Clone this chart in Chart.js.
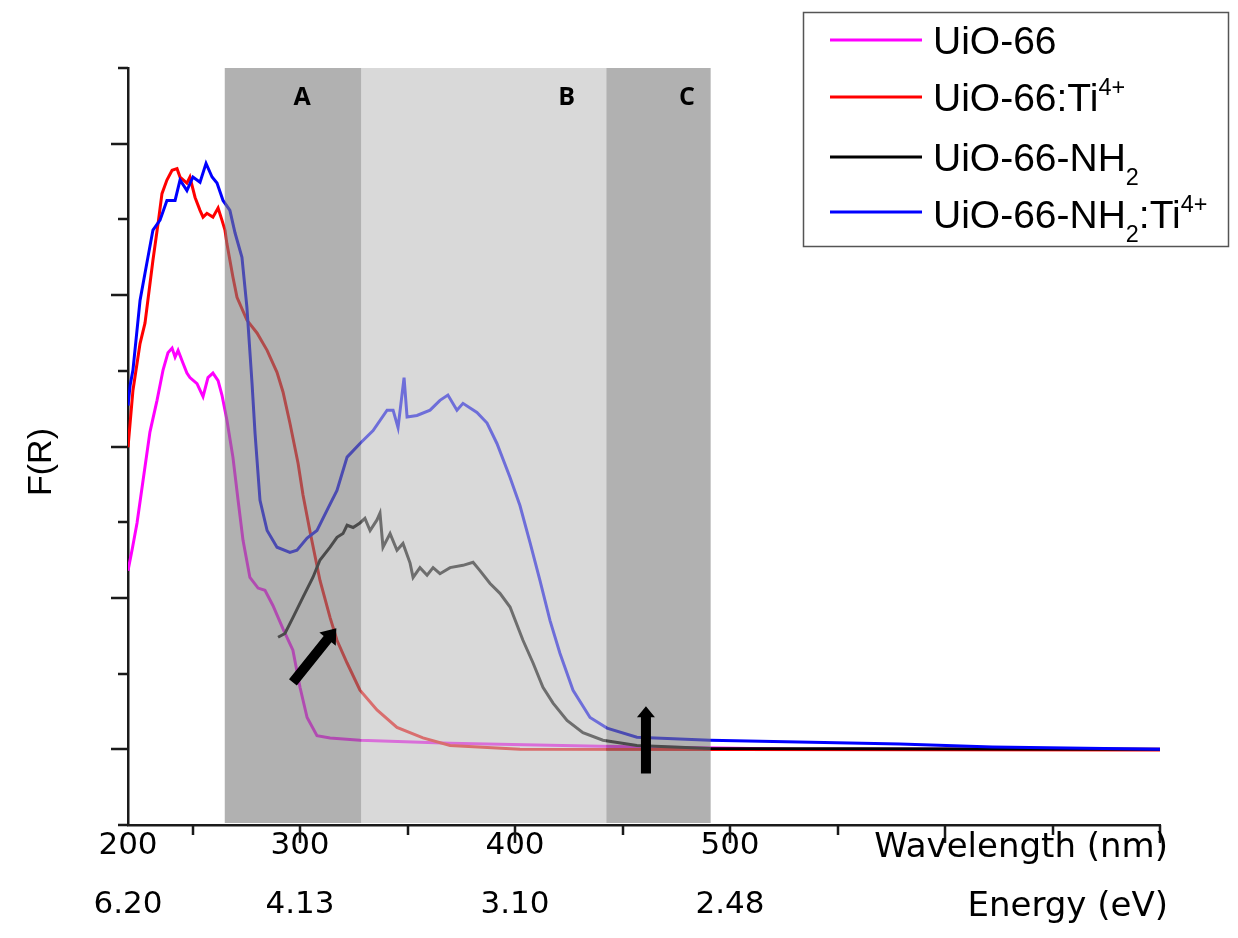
<!DOCTYPE html>
<html>
<head>
<meta charset="utf-8">
<script src="https://cdn.jsdelivr.net/npm/chart.js@4.4.0/dist/chart.umd.min.js"></script>
<style>
body { margin: 0; background: #fff; }
canvas { display: block; }
</style>
</head>
<body>
<canvas id="graf_fr" width="1238" height="938"></canvas>
<script>
// wavelength (nm) and F(R), 1 unit = 1 y tick

const uio66_nm = [220, 222, 224.2, 227, 230.2, 233.5, 236.3, 238.6, 240.5, 241.9, 243.3, 245.6, 247.4, 248.8, 252.1, 254.9, 257.2, 259.5, 261.9, 263.7, 266, 268.8, 271.2, 273.5, 276.7, 280.5, 283.7, 287.4, 292.1, 296.7, 300, 303.3, 307.9, 314, 327.9, 369.8, 439.5, 532.6, 700];
const uio66_fr = [2.36, 2.65, 2.99, 3.55, 4.19, 4.61, 5.01, 5.24, 5.30, 5.18, 5.27, 5.10, 4.97, 4.91, 4.83, 4.66, 4.91, 4.97, 4.87, 4.68, 4.35, 3.86, 3.29, 2.76, 2.27, 2.13, 2.10, 1.90, 1.59, 1.31, 0.82, 0.42, 0.18, 0.15, 0.12, 0.08, 0.04, 0.0, 0.0];

const uio66ti_nm = [220, 222.3, 225.6, 227.9, 231.6, 234, 235.8, 238.1, 240.5, 242.8, 244.2, 247.4, 248.8, 251.2, 253.5, 254.9, 256.7, 259.5, 261.9, 263.7, 265.1, 266, 268.8, 270.7, 275.3, 280, 284.7, 289.3, 292.1, 295.3, 299.1, 301.4, 304.7, 309.3, 314, 317.2, 321.9, 327.9, 335.8, 345.1, 357.2, 369.8, 402.3, 700];
const uio66ti_fr = [3.99, 4.74, 5.36, 5.63, 6.46, 6.95, 7.34, 7.52, 7.65, 7.67, 7.56, 7.48, 7.56, 7.29, 7.12, 7.03, 7.08, 7.03, 7.15, 6.99, 6.86, 6.68, 6.24, 5.97, 5.67, 5.50, 5.27, 4.98, 4.72, 4.31, 3.78, 3.36, 2.87, 2.23, 1.74, 1.44, 1.14, 0.78, 0.52, 0.29, 0.15, 0.05, 0.0, -0.01];

const nh2_nm = [289.8, 293, 296.7, 301.4, 306, 309.3, 314, 317.2, 320, 321.9, 324.7, 327.9, 330.2, 332.6, 335.8, 337.2, 338.6, 341.9, 345.1, 347.9, 351.2, 352.6, 355.8, 359.1, 361.9, 365.1, 369.8, 375.8, 380.5, 383.7, 388.4, 393, 397.7, 403.7, 408.4, 413, 417.7, 424.2, 431.6, 440.9, 456.7, 490.7, 700];
const nh2_fr = [1.48, 1.53, 1.74, 2.01, 2.27, 2.50, 2.67, 2.80, 2.85, 2.96, 2.93, 2.99, 3.05, 2.89, 3.03, 3.12, 2.67, 2.85, 2.63, 2.72, 2.46, 2.27, 2.40, 2.30, 2.40, 2.32, 2.40, 2.43, 2.47, 2.36, 2.19, 2.06, 1.88, 1.44, 1.14, 0.82, 0.61, 0.38, 0.22, 0.12, 0.05, 0.01, 0.0];

const nh2ti_nm = [220, 221, 222.3, 225.6, 227.9, 231.6, 234.9, 238.1, 241.9, 244.2, 247.4, 250.2, 253.5, 256.3, 259.1, 261.4, 264.2, 267.4, 269.8, 273, 275.3, 277.7, 279.1, 281.4, 284.7, 289.3, 295.3, 298.6, 303.3, 307.9, 312.6, 317.2, 321.9, 327.9, 334, 340.5, 343.3, 345.6, 348.4, 349.8, 354.4, 360.5, 365.1, 368.8, 373, 375.8, 382.3, 387, 391.6, 397.7, 402.3, 407, 411.6, 416.3, 420.9, 427, 434.9, 442.8, 456.7, 490.7, 579, 622, 700];
const nh2ti_fr = [4.54, 4.81, 5.01, 5.93, 6.29, 6.86, 6.99, 7.25, 7.25, 7.52, 7.38, 7.56, 7.49, 7.74, 7.56, 7.48, 7.25, 7.12, 6.82, 6.50, 5.84, 4.83, 4.17, 3.29, 2.89, 2.67, 2.60, 2.63, 2.79, 2.89, 3.16, 3.42, 3.86, 4.04, 4.21, 4.48, 4.48, 4.25, 4.91, 4.39, 4.41, 4.48, 4.61, 4.68, 4.48, 4.57, 4.45, 4.31, 4.04, 3.59, 3.22, 2.73, 2.23, 1.70, 1.27, 0.78, 0.42, 0.28, 0.16, 0.12, 0.07, 0.03, 0.0];

const series_names = ['UiO-66', 'UiO-66:Ti^{4+}', 'UiO-66-NH_{2}', 'UiO-66-NH_{2}:Ti^{4+}'];
const series_colors = ['#ff00ff', '#ff0000', '#000000', '#0000ff'];

const x_tick_values = [220, 300, 400, 500];
const x_tick_nm = ['200', '300', '400', '500'];
const x_tick_ev = ['6.20', '4.13', '3.10', '2.48'];

const band_from = [265, 328.5, 442.5];
const band_to = [328.5, 442.5, 491];
const band_names = ['A', 'B', 'C'];
const band_name_at = [301, 424, 480];
const band_fill = ['rgba(125,125,125,0.6)', 'rgba(190,190,190,0.58)', 'rgba(125,125,125,0.6)'];

function pts(xs, ys) {
    return xs.map((v, i) => ({ x: v, y: ys[i] }));
}

function arrow(ctx, x1, y1, x2, y2, shaft, headW, headL) {
    const ang = Math.atan2(y2 - y1, x2 - x1);
    const len = Math.hypot(x2 - x1, y2 - y1);
    ctx.save();
    ctx.translate(x1, y1);
    ctx.rotate(ang);
    ctx.beginPath();
    ctx.moveTo(0, -shaft / 2);
    ctx.lineTo(len - headL, -shaft / 2);
    ctx.lineTo(len - headL, -headW / 2);
    ctx.lineTo(len, 0);
    ctx.lineTo(len - headL, headW / 2);
    ctx.lineTo(len - headL, shaft / 2);
    ctx.lineTo(0, shaft / 2);
    ctx.closePath();
    ctx.fill();
    ctx.restore();
}

function richText(ctx, str, x, y, size) {
    str.split(/(\^\{[^}]*\}|_\{[^}]*\})/).forEach(part => {
        if (!part) return;
        let s = size, dy = 0, t = part;
        if (part[0] === '^') { t = part.slice(2, -1); s = size * 0.6; dy = -size * 0.4; }
        else if (part[0] === '_') { t = part.slice(2, -1); s = size * 0.6; dy = size * 0.35; }
        ctx.font = s + 'px "Liberation Sans", Arial, sans-serif';
        ctx.fillText(t, x, y + dy);
        x += ctx.measureText(t).width;
    });
}

const extras = {
    id: 'extras',
    afterDatasetsDraw(chart) {
        const ctx = chart.ctx, a = chart.chartArea, x = chart.scales.x, y = chart.scales.y;
        ctx.save();
        // shaded regions over the curves
        band_from.forEach((f, i) => {
            const l = x.getPixelForValue(f), r = x.getPixelForValue(band_to[i]);
            ctx.fillStyle = band_fill[i];
            ctx.fillRect(l, a.top, r - l, a.bottom - a.top - 2);
        });
        ctx.fillStyle = '#000';
        ctx.font = 'bold 25px "Open Sans", sans-serif';
        ctx.textAlign = 'center';
        ctx.textBaseline = 'middle';
        band_names.forEach((n, i) => ctx.fillText(n, x.getPixelForValue(band_name_at[i]), 98));
        // arrows
        arrow(ctx, x.getPixelForValue(296.7), y.getPixelForValue(0.885),
              x.getPixelForValue(316.9), y.getPixelForValue(1.60), 10, 21, 14);
        arrow(ctx, x.getPixelForValue(460.9), y.getPixelForValue(-0.32),
              x.getPixelForValue(460.9), y.getPixelForValue(0.57), 10, 18, 11);
        ctx.restore();
    },
    afterDraw(chart) {
        const ctx = chart.ctx, a = chart.chartArea, x = chart.scales.x, y = chart.scales.y;
        ctx.save();
        ctx.strokeStyle = '#1a1a1a';
        ctx.lineWidth = 2.5;
        ctx.beginPath();
        for (let v = -1; v <= 9; v++) {
            const p = Math.round(y.getPixelForValue(v));
            const len = (v % 2 === 0) ? 17 : 10;
            ctx.moveTo(a.left, p);
            ctx.lineTo(a.left - len, p);
        }
        for (let v = 250; v <= 700; v += 50) {
            const p = Math.round(x.getPixelForValue(v));
            const len = (v % 100 === 0) ? 18 : 10;
            ctx.moveTo(p, a.bottom);
            ctx.lineTo(p, a.bottom + len);
        }
        ctx.stroke();

        // axis titles
        ctx.fillStyle = '#000';
        ctx.textBaseline = 'middle';
        ctx.textAlign = 'right';
        ctx.font = '34px "DejaVu Sans", sans-serif';
        ctx.fillText('Wavelength (nm)', 1168, 848);
        ctx.fillText('Energy (eV)', 1168, 907);
        ctx.save();
        ctx.translate(42, 462);
        ctx.rotate(-Math.PI / 2);
        ctx.textAlign = 'center';
        ctx.font = '34px "Liberation Sans", Arial, sans-serif';
        ctx.fillText('F(R)', 0, 0);
        ctx.restore();

        // legend box
        ctx.strokeStyle = '#555';
        ctx.lineWidth = 1.5;
        ctx.strokeRect(803.5, 12.5, 425, 234);
        const rowLine = [40, 97, 157, 212];
        const rowBase = [54, 111, 171, 228];
        ctx.textAlign = 'left';
        ctx.textBaseline = 'alphabetic';
        series_names.forEach((n, i) => {
            ctx.strokeStyle = series_colors[i];
            ctx.lineWidth = 3;
            ctx.beginPath();
            ctx.moveTo(830, rowLine[i]);
            ctx.lineTo(922, rowLine[i]);
            ctx.stroke();
            ctx.fillStyle = '#000';
            richText(ctx, n, 933, rowBase[i], 39);
        });
        ctx.restore();
    }
};

const graf_fr = new Chart(document.getElementById('graf_fr').getContext('2d'), {
    type: 'line',
    data: {
        datasets: [
            { label: 'UiO-66', data: pts(uio66_nm, uio66_fr), borderColor: series_colors[0], order: 4 },
            { label: 'UiO-66:Ti4+', data: pts(uio66ti_nm, uio66ti_fr), borderColor: series_colors[1], order: 3 },
            { label: 'UiO-66-NH2', data: pts(nh2_nm, nh2_fr), borderColor: series_colors[2], order: 2 },
            { label: 'UiO-66-NH2:Ti4+', data: pts(nh2ti_nm, nh2ti_fr), borderColor: series_colors[3], order: 1 }
        ]
    },
    options: {
        responsive: false,
        animation: false,
        devicePixelRatio: 1,
        elements: {
            line: { borderWidth: 3, tension: 0, fill: false },
            point: { radius: 0 }
        },
        layout: { padding: { top: 68, right: 78, left: 0, bottom: 0 } },
        plugins: { legend: { display: false }, tooltip: { enabled: false } },
        scales: {
            x: {
                type: 'linear',
                min: 220,
                max: 700,
                grid: { display: false, drawTicks: false },
                border: { display: true, color: '#1a1a1a', width: 2.5 },
                afterBuildTicks: s => { s.ticks = x_tick_values.map(v => ({ value: v })); },
                afterFit: s => { s.height = 113; },
                ticks: {
                    autoSkip: false,
                    maxRotation: 0,
                    padding: -8,
                    color: '#000',
                    font: { family: 'DejaVu Sans', size: 31, lineHeight: 1.9 },
                    callback: (v, i) => [x_tick_nm[i], x_tick_ev[i]]
                }
            },
            y: {
                min: -1,
                max: 9,
                grid: { display: false, drawTicks: false },
                border: { display: true, color: '#1a1a1a', width: 2.5 },
                ticks: { display: false, stepSize: 1 },
                afterFit: s => { s.width = 128; }
            }
        }
    },
    plugins: [extras]
});
</script>
</body>
</html>
